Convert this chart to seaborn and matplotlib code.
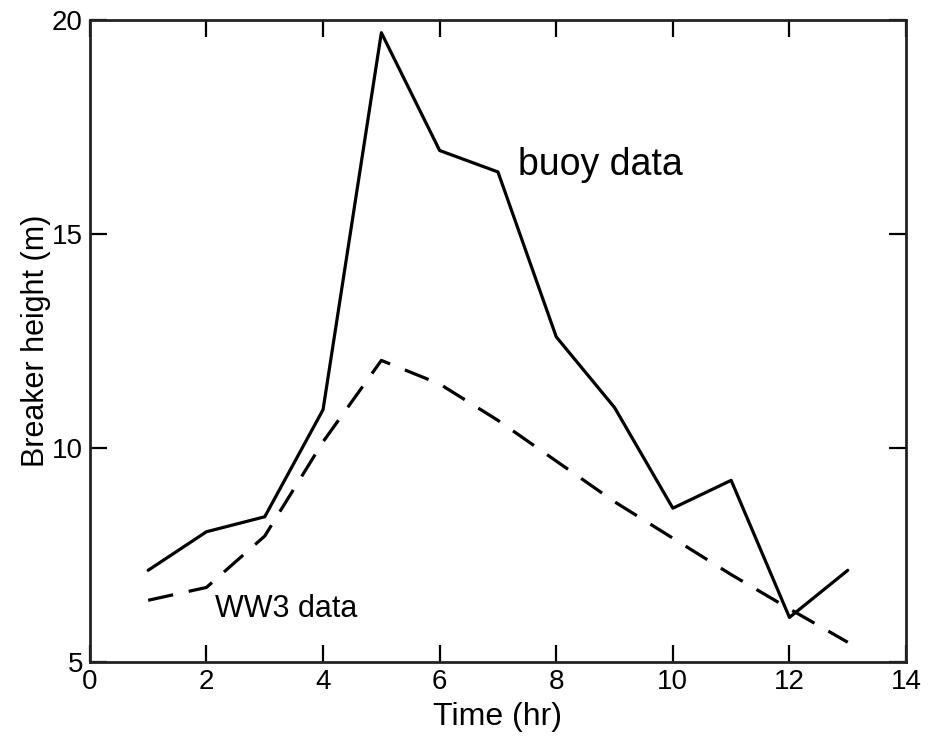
import matplotlib
matplotlib.use("Agg")
import matplotlib.pyplot as plt
import pandas as pd
import seaborn as sns

# values
hours = [1, 2, 3, 4, 5, 6, 7, 8, 9, 10, 11, 12, 13]
buoy_height = [7.15, 8.05, 8.4, 10.9, 19.7, 16.95, 16.45, 12.6, 10.95, 8.6, 9.25, 6.05, 7.15]
ww3_height = [6.45, 6.75, 7.95, 10.15, 12.05, 11.5, 10.65, 9.7, 8.75, 7.9, 7.05, 6.25, 5.47]
series_names = ["buoy data", "WW3 data"]

df = pd.concat([
    pd.DataFrame({"Time": hours, "Height": buoy_height, "source": series_names[0]}),
    pd.DataFrame({"Time": hours, "Height": ww3_height, "source": series_names[1]}),
])

sns.set_style("ticks")
plt.rcParams["font.family"] = ["Liberation Sans", "DejaVu Sans"]
plt.rcParams.update({
    "text.color": "black", "axes.labelcolor": "black",
    "xtick.color": "black", "ytick.color": "black",
})

fig = plt.figure(figsize=(9.36, 7.36), dpi=100)
ax = fig.add_axes([0.096, 0.100, 0.872, 0.873])

sns.lineplot(
    data=df, x="Time", y="Height", style="source",
    dashes={"buoy data": "", "WW3 data": (8, 5)},
    color="black", linewidth=2.3, legend=False, ax=ax,
)

ax.set_xlim(0, 14)
ax.set_ylim(5, 20)
ax.set_xticks(range(0, 15, 2))
ax.set_yticks([5, 10, 15, 20])
ax.tick_params(direction="in", length=12, width=1.6, labelsize=20,
               top=True, right=True, pad=5)
for s in ax.spines.values():
    s.set_linewidth(2)
    s.set_color("#222222")

ax.set_xlabel("Time (hr)", fontsize=23, labelpad=5)
ax.set_ylabel("Breaker height (m)", fontsize=22, labelpad=1)

ax.text(7.34, 16.38, "buoy data", fontsize=27, ha="left", va="baseline")
ax.text(2.14, 6.05, "WW3 data", fontsize=22, ha="left", va="baseline")

fig.savefig("out.png", dpi=100)
